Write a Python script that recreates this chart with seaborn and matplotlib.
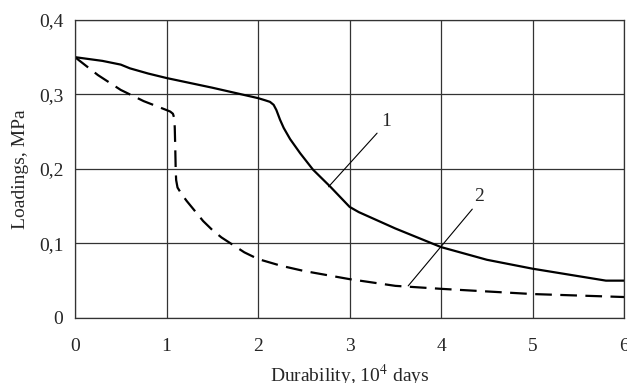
import numpy as np
import pandas as pd
import seaborn as sns
import matplotlib.pyplot as plt

# curve 1 (solid)
x1 = [0, 0.3, 0.5, 0.6, 0.8, 1.0, 1.5, 2.0, 2.08, 2.13, 2.17, 2.2, 2.24, 2.28, 2.35,
      2.46, 2.6, 2.79, 2.93, 3.0, 3.1, 3.5, 4.0, 4.5, 5.0, 5.5, 5.8, 6.0]
y1 = [0.35, 0.345, 0.34, 0.335, 0.328, 0.322, 0.309, 0.295, 0.292, 0.29, 0.286, 0.279,
      0.266, 0.255, 0.24, 0.221, 0.199, 0.176, 0.158, 0.149, 0.142, 0.12, 0.095, 0.078,
      0.066, 0.056, 0.05, 0.05]

# curve 2 (dashed)
x2 = [0, 0.25, 0.5, 0.75, 1.0, 1.04, 1.07, 1.085, 1.09, 1.095, 1.1, 1.105, 1.12, 1.16,
      1.22, 1.3, 1.4, 1.5, 1.6, 1.7, 1.85, 2.0, 2.25, 2.5, 3.0, 3.5, 4.0, 5.0, 6.0]
y2 = [0.35, 0.326, 0.306, 0.291, 0.279, 0.277, 0.274, 0.268, 0.255, 0.23, 0.2, 0.185,
      0.175, 0.167, 0.157, 0.145, 0.13, 0.118, 0.108, 0.1, 0.088, 0.079, 0.07, 0.063,
      0.052, 0.043, 0.039, 0.032, 0.028]

xticks = [0, 1, 2, 3, 4, 5, 6]
yticks = [0, 0.1, 0.2, 0.3, 0.4]
ylabels = ['0', '0,1', '0,2', '0,3', '0,4']

df = pd.concat([
    pd.DataFrame({'x': x1, 'y': y1, 'curve': '1'}),
    pd.DataFrame({'x': x2, 'y': y2, 'curve': '2'}),
])

sns.set_style('white')
plt.rcParams['font.family'] = ['Liberation Serif', 'DejaVu Serif']
plt.rcParams['mathtext.fontset'] = 'stix'

fig = plt.figure(figsize=(6.27, 3.83), dpi=100)
ax = fig.add_axes([0.1196, 0.170, 0.876, 0.778])

sns.lineplot(data=df, x='x', y='y', style='curve', color='black', linewidth=1.6,
             dashes={'1': '', '2': (7.5, 3.8)}, sort=False, estimator=None,
             legend=False, ax=ax)

ax.set_xlim(0, 6)
ax.set_ylim(0, 0.4)
ax.set_xticks(xticks)
ax.set_xticklabels([str(t) for t in xticks])
ax.set_yticks(yticks)
ax.set_yticklabels(ylabels)
ax.grid(True, color='#333333', linewidth=0.9)
ax.set_axisbelow(True)
for s in ax.spines.values():
    s.set_color('#333333')
    s.set_linewidth(0.9)
ax.tick_params(axis='both', direction='out', length=4.3, width=0.9, color='#333333',
               labelsize=14)
ax.tick_params(axis='x', pad=10)
ax.tick_params(axis='y', pad=4)
ax.set_xlabel('Durability, 10$^4$ days', fontsize=14, labelpad=6)
ax.set_ylabel('Loadings, MPa', fontsize=14, labelpad=7)

# curve labels with leader lines
ax.plot([2.77, 3.3], [0.176, 0.248], color='black', linewidth=0.8)
ax.text(3.34, 0.252, '1', fontsize=14, ha='left', va='bottom')
ax.plot([3.64, 4.34], [0.043, 0.146], color='black', linewidth=0.8)
ax.text(4.36, 0.152, '2', fontsize=14, ha='left', va='bottom')

fig.savefig('out.png', dpi=100)
